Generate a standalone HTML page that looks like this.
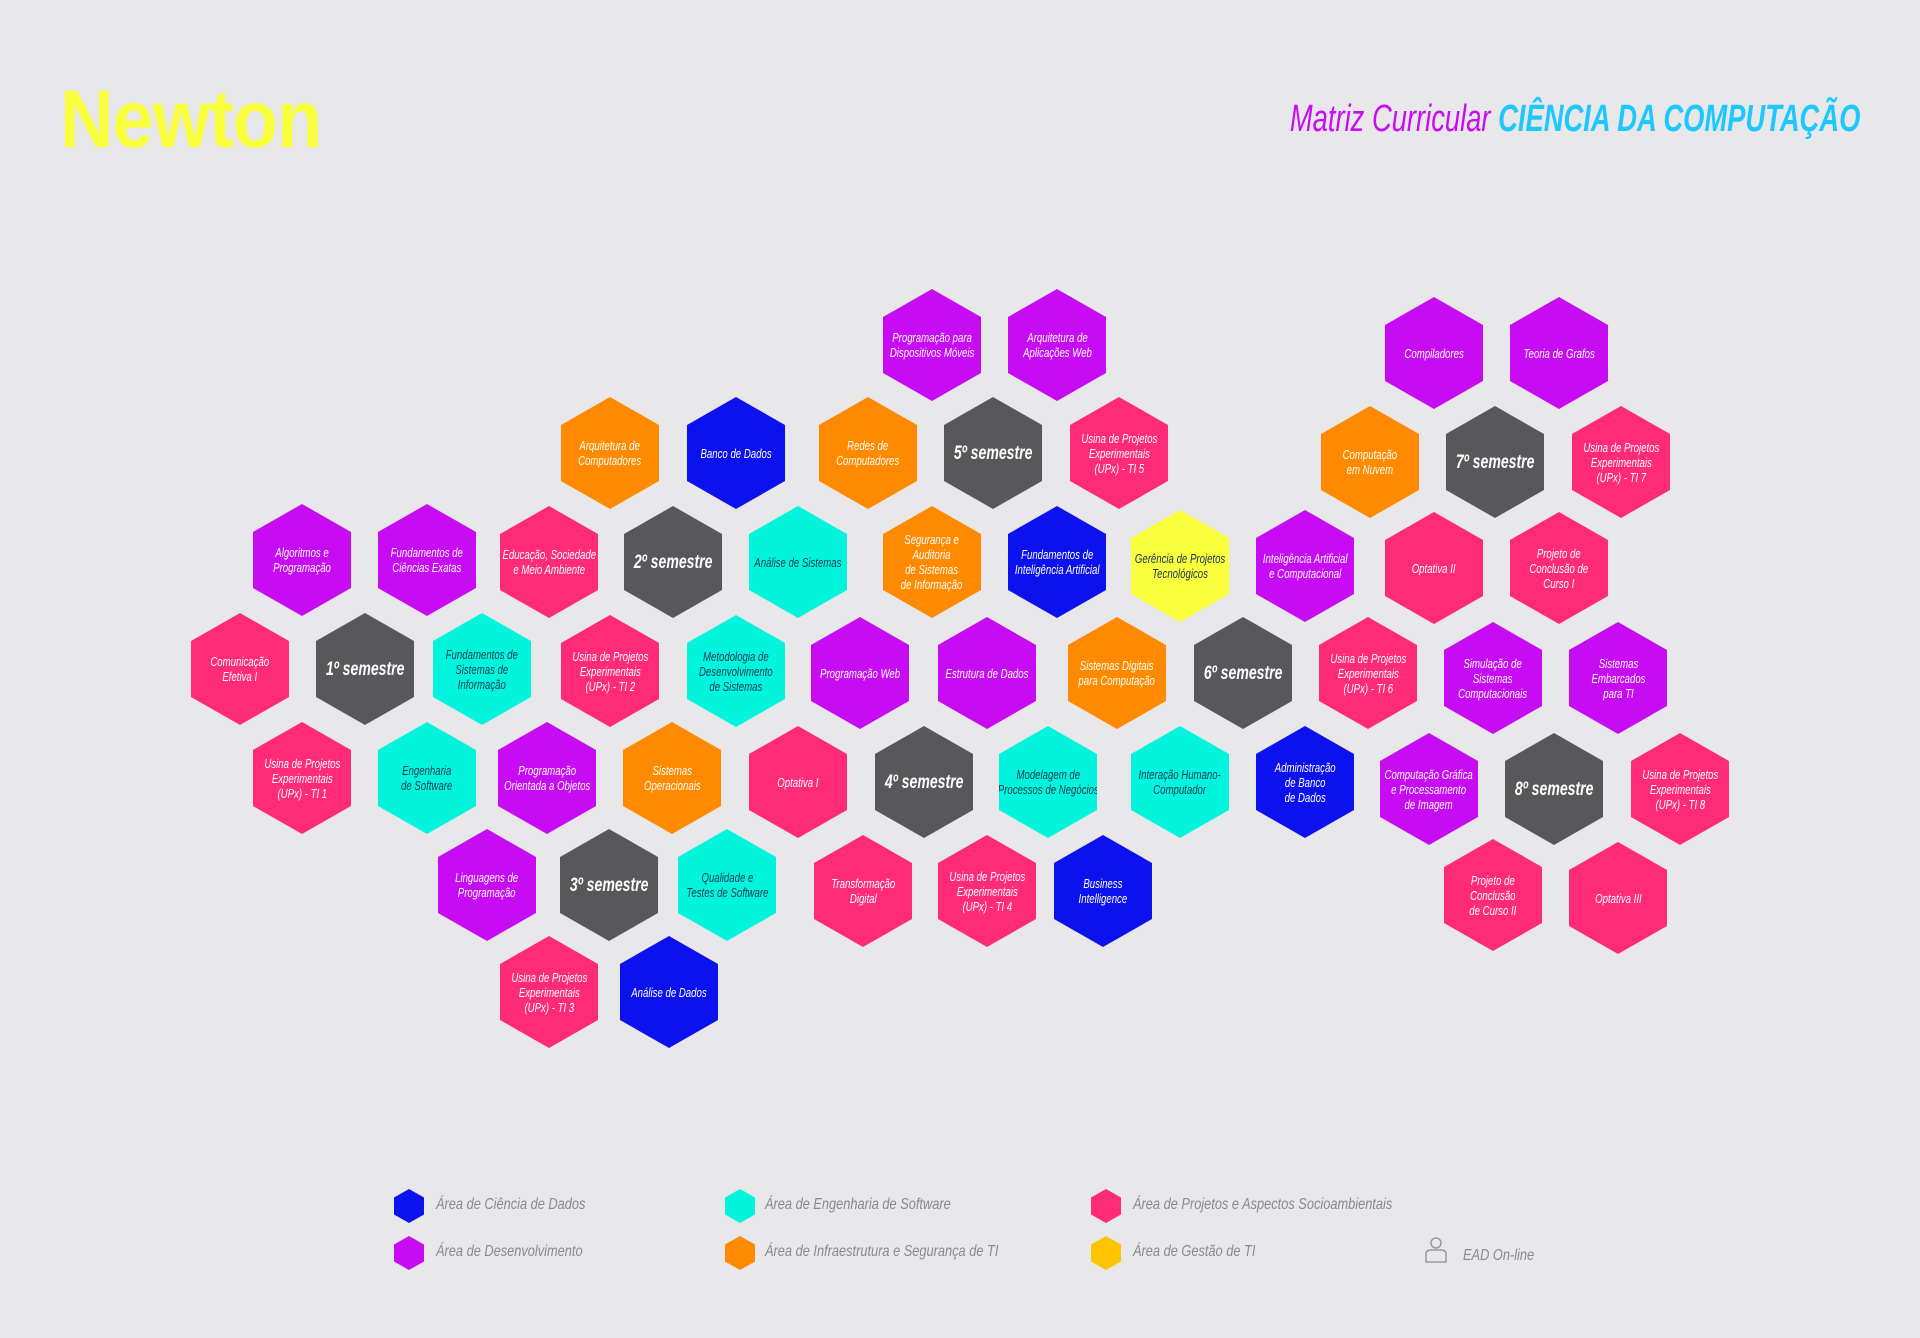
<!DOCTYPE html>
<html><head><meta charset="utf-8"><style>
body{margin:0;width:1920px;height:1338px;background:#e8e8ea;position:relative;overflow:hidden;font-family:"Liberation Sans Narrow","Liberation Sans",sans-serif;}
.h{position:absolute;width:98px;height:112px;clip-path:polygon(50% 0,100% 25%,100% 75%,50% 100%,0 75%,0 25%);display:flex;align-items:center;justify-content:center;color:#fff;}
.h div{font-style:italic;font-size:13px;line-height:15px;text-align:center;transform:scaleX(.74);white-space:nowrap;}
.s div{font-size:19px;font-weight:bold;}
.P{background:#c70cf4}.K{background:#ff2b76}.G{background:#58585b}.C{background:#02f5dc;color:#123a55}.O{background:#ff8a00}.B{background:#0b12ee}.Y{background:#f9ff3c;color:#1d3350}
.lg{position:absolute;width:30px;height:34px;clip-path:polygon(50% 0,100% 25%,100% 75%,50% 100%,0 75%,0 25%);}
.lt{position:absolute;font-style:italic;font-size:16px;color:#8a8a8e;transform-origin:left center;transform:scaleX(.8);white-space:nowrap;}
</style></head><body>
<div style="position:absolute;left:60px;top:72px;font-family:'Liberation Sans',sans-serif;font-weight:bold;font-size:74px;color:#f9ff3d;letter-spacing:-1px;transform:scaleY(1.1);transform-origin:left top;">Newton</div>
<div style="position:absolute;right:60px;top:98px;font-style:italic;font-size:38px;white-space:nowrap;transform:scaleX(.72);transform-origin:right center;"><span style="color:#c90cf5">Matriz Curricular</span> <span style="color:#1ec8ff;font-weight:bold">CIÊNCIA DA COMPUTAÇÃO</span></div>

<div class="h P" style="left:883px;top:289px"><div>Programação para<br>Dispositivos Móveis</div></div>
<div class="h P" style="left:1008px;top:289px"><div>Arquitetura de<br>Aplicações Web</div></div>
<div class="h P" style="left:1385px;top:297px"><div>Compiladores</div></div>
<div class="h P" style="left:1510px;top:297px"><div>Teoria de Grafos</div></div>

<div class="h O" style="left:561px;top:397px"><div>Arquitetura de<br>Computadores</div></div>
<div class="h B" style="left:687px;top:397px"><div>Banco de Dados</div></div>
<div class="h O" style="left:819px;top:397px"><div>Redes de<br>Computadores</div></div>
<div class="h G s" style="left:944px;top:397px"><div>5º semestre</div></div>
<div class="h K" style="left:1070px;top:397px"><div>Usina de Projetos<br>Experimentais<br>(UPx) - TI 5</div></div>
<div class="h O" style="left:1321px;top:406px"><div>Computação<br>em Nuvem</div></div>
<div class="h G s" style="left:1446px;top:406px"><div>7º semestre</div></div>
<div class="h K" style="left:1572px;top:406px"><div>Usina de Projetos<br>Experimentais<br>(UPx) - TI 7</div></div>

<div class="h P" style="left:253px;top:504px"><div>Algoritmos e<br>Programação</div></div>
<div class="h P" style="left:378px;top:504px"><div>Fundamentos de<br>Ciências Exatas</div></div>
<div class="h K" style="left:500px;top:506px"><div>Educação, Sociedade<br>e Meio Ambiente</div></div>
<div class="h G s" style="left:624px;top:506px"><div>2º semestre</div></div>
<div class="h C" style="left:749px;top:506px"><div>Análise de Sistemas</div></div>
<div class="h O" style="left:883px;top:506px"><div>Segurança e<br>Auditoria<br>de Sistemas<br>de Informação</div></div>
<div class="h B" style="left:1008px;top:506px"><div>Fundamentos de<br>Inteligência Artificial</div></div>
<div class="h Y" style="left:1131px;top:510px"><div>Gerência de Projetos<br>Tecnológicos</div></div>
<div class="h P" style="left:1256px;top:510px"><div>Inteligência Artificial<br>e Computacional</div></div>
<div class="h K" style="left:1385px;top:512px"><div>Optativa II</div></div>
<div class="h K" style="left:1510px;top:512px"><div>Projeto de<br>Conclusão de<br>Curso I</div></div>

<div class="h K" style="left:191px;top:613px"><div>Comunicação<br>Efetiva I</div></div>
<div class="h G s" style="left:316px;top:613px"><div>1º semestre</div></div>
<div class="h C" style="left:433px;top:613px"><div>Fundamentos de<br>Sistemas de<br>Informação</div></div>
<div class="h K" style="left:561px;top:615px"><div>Usina de Projetos<br>Experimentais<br>(UPx) - TI 2</div></div>
<div class="h C" style="left:687px;top:615px"><div>Metodologia de<br>Desenvolvimento<br>de Sistemas</div></div>
<div class="h P" style="left:811px;top:617px"><div>Programação Web</div></div>
<div class="h P" style="left:938px;top:617px"><div>Estrutura de Dados</div></div>
<div class="h O" style="left:1068px;top:617px"><div>Sistemas Digitais<br>para Computação</div></div>
<div class="h G s" style="left:1194px;top:617px"><div>6º semestre</div></div>
<div class="h K" style="left:1319px;top:617px"><div>Usina de Projetos<br>Experimentais<br>(UPx) - TI 6</div></div>
<div class="h P" style="left:1444px;top:622px"><div>Simulação de<br>Sistemas<br>Computacionais</div></div>
<div class="h P" style="left:1569px;top:622px"><div>Sistemas<br>Embarcados<br>para TI</div></div>

<div class="h K" style="left:253px;top:722px"><div>Usina de Projetos<br>Experimentais<br>(UPx) - TI 1</div></div>
<div class="h C" style="left:378px;top:722px"><div>Engenharia<br>de Software</div></div>
<div class="h P" style="left:498px;top:722px"><div>Programação<br>Orientada a Objetos</div></div>
<div class="h O" style="left:623px;top:722px"><div>Sistemas<br>Operacionais</div></div>
<div class="h K" style="left:749px;top:726px"><div>Optativa I</div></div>
<div class="h G s" style="left:875px;top:726px"><div>4º semestre</div></div>
<div class="h C" style="left:999px;top:726px"><div>Modelagem de<br>Processos de Negócios</div></div>
<div class="h C" style="left:1131px;top:726px"><div>Interação Humano-<br>Computador</div></div>
<div class="h B" style="left:1256px;top:726px"><div>Administração<br>de Banco<br>de Dados</div></div>
<div class="h P" style="left:1380px;top:733px"><div>Computação Gráfica<br>e Processamento<br>de Imagem</div></div>
<div class="h G s" style="left:1505px;top:733px"><div>8º semestre</div></div>
<div class="h K" style="left:1631px;top:733px"><div>Usina de Projetos<br>Experimentais<br>(UPx) - TI 8</div></div>

<div class="h P" style="left:438px;top:829px"><div>Linguagens de<br>Programação</div></div>
<div class="h G s" style="left:560px;top:829px"><div>3º semestre</div></div>
<div class="h C" style="left:678px;top:829px"><div>Qualidade e<br>Testes de Software</div></div>
<div class="h K" style="left:814px;top:835px"><div>Transformação<br>Digital</div></div>
<div class="h K" style="left:938px;top:835px"><div>Usina de Projetos<br>Experimentais<br>(UPx) - TI 4</div></div>
<div class="h B" style="left:1054px;top:835px"><div>Business<br>Intelligence</div></div>
<div class="h K" style="left:1444px;top:839px"><div>Projeto de<br>Conclusão<br>de Curso II</div></div>
<div class="h K" style="left:1569px;top:842px"><div>Optativa III</div></div>

<div class="h K" style="left:500px;top:936px"><div>Usina de Projetos<br>Experimentais<br>(UPx) - TI 3</div></div>
<div class="h B" style="left:620px;top:936px"><div>Análise de Dados</div></div>

<div class="lg" style="left:394px;top:1189px;background:#0b12ee"></div><div class="lt" style="left:436px;top:1196px">Área de Ciência de Dados</div>
<div class="lg" style="left:725px;top:1189px;background:#02f5dc"></div><div class="lt" style="left:765px;top:1196px">Área de Engenharia de Software</div>
<div class="lg" style="left:1091px;top:1189px;background:#ff2b76"></div><div class="lt" style="left:1133px;top:1196px">Área de Projetos e Aspectos Socioambientais</div>
<div class="lg" style="left:394px;top:1236px;background:#c70cf4"></div><div class="lt" style="left:436px;top:1243px">Área de Desenvolvimento</div>
<div class="lg" style="left:725px;top:1236px;background:#ff8a00"></div><div class="lt" style="left:765px;top:1243px">Área de Infraestrutura e Segurança de TI</div>
<div class="lg" style="left:1091px;top:1236px;background:#ffc400"></div><div class="lt" style="left:1133px;top:1243px">Área de Gestão de TI</div>
<svg style="position:absolute;left:1423px;top:1236px" width="26" height="28" viewBox="0 0 26 28"><circle cx="13" cy="7" r="5" fill="none" stroke="#9a9a9e" stroke-width="1.5"/><path d="M3 26 V18 Q3 14 8 14 H18 Q23 14 23 18 V26 Z" fill="none" stroke="#9a9a9e" stroke-width="1.5"/></svg>
<div class="lt" style="left:1463px;top:1247px">EAD On-line</div>
</body></html>
